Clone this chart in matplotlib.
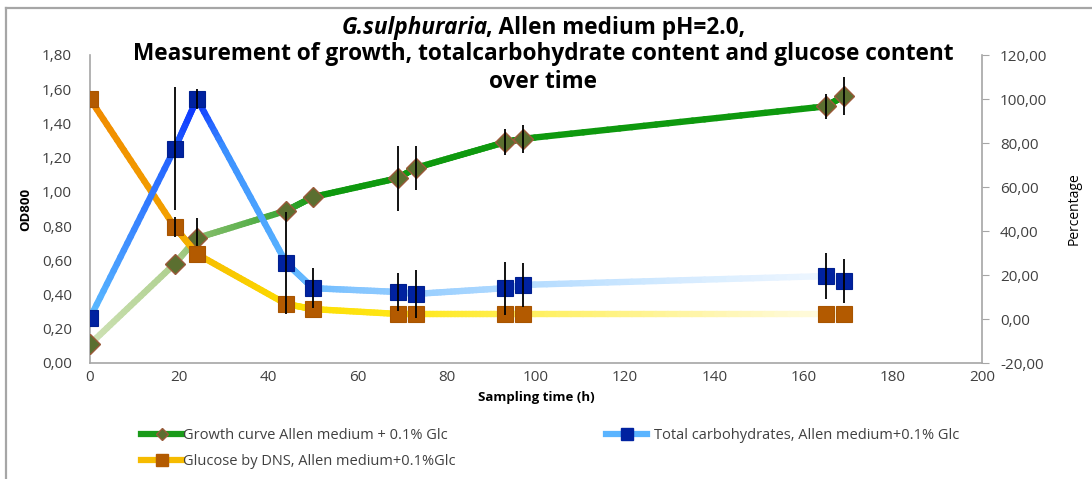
import matplotlib
matplotlib.use("Agg")
import matplotlib.pyplot as plt
import numpy as np
from matplotlib.collections import LineCollection
from matplotlib.colors import LinearSegmentedColormap
from matplotlib.lines import Line2D
from matplotlib.ticker import FuncFormatter, MultipleLocator

plt.rcParams['font.family'] = ['Open Sans', 'DejaVu Sans']

# Data
time_h = [0, 19, 24, 44, 50, 69, 73, 93, 97, 165, 169]
growth_od = [0.11, 0.58, 0.73, 0.89, 0.97, 1.08, 1.14, 1.29, 1.31, 1.50, 1.56]
growth_err = [0, 0, 0.12, 0, 0, 0.19, 0.13, 0.075, 0.08, 0.075, 0.11]
carbs_pct = [0.5, 77.5, 100.0, 25.5, 14.0, 12.3, 11.4, 14.0, 15.5, 19.5, 17.3]
carbs_err = [0, 28, 4.5, 23, 9, 8.5, 11, 12, 10, 10.6, 10]
glucose_pct = [100.0, 41.8, 29.5, 6.8, 4.5, 2.3, 2.3, 2.3, 2.3, 2.3, 2.3]
glucose_err = [0, 4.5, 0, 0, 0, 0, 0, 0, 0, 0, 0]

growth_label = "Growth curve Allen medium + 0.1% Glc"
carbs_label = "Total carbohydrates, Allen medium+0.1% Glc"
glucose_label = "Glucose by DNS, Allen medium+0.1%Glc"

# colour stops along time for the fading lines
growth_stops = [(0, '#cfe2b6'), (19, '#aed08e'), (24, '#8cc070'), (44, '#3aa535'), (52, '#0e990e'), (200, '#0e990e')]
carbs_stops = [(0, '#5cbcff'), (19, '#1f5cff'), (24, '#0a30ff'), (30, '#3a8fff'), (44, '#5ab4ff'),
               (60, '#86c6ff'), (97, '#b3dbff'), (140, '#dbeeff'), (165, '#eef6ff'), (200, '#eef6ff')]
glucose_stops = [(0, '#f08a00'), (19, '#f3a200'), (24, '#f6bb00'), (44, '#fddc00'), (73, '#ffe81a'),
                 (100, '#fff060'), (140, '#fff6b0'), (165, '#fffbe0'), (200, '#fffbe0')]


def gradient_line(axis, x, y, stops, lw=4.6, z=2):
    cmap = LinearSegmentedColormap.from_list('g', [(t / 200.0, c) for t, c in stops])
    pts_x, pts_y = [], []
    for i in range(len(x) - 1):
        f = np.linspace(0, 1, 25, endpoint=False)
        pts_x.extend(x[i] + (x[i + 1] - x[i]) * f)
        pts_y.extend(y[i] + (y[i + 1] - y[i]) * f)
    pts_x.append(x[-1])
    pts_y.append(y[-1])
    pts = np.column_stack([pts_x, pts_y])
    segs = np.stack([pts[:-1], pts[1:]], axis=1)
    mids = (pts[:-1, 0] + pts[1:, 0]) / 2 / 200.0
    lc = LineCollection(segs, colors=cmap(mids), linewidths=lw, capstyle='round',
                        joinstyle='round', zorder=z)
    axis.add_collection(lc)


W, H = 1092, 479
fig = plt.figure(figsize=(W / 100, H / 100), dpi=100)

# frame of the original chart area
fig.add_artist(Line2D([6 / W, 6 / W], [0, 1 - 8 / H], color='#a6a6a6', lw=1.6))
fig.add_artist(Line2D([6 / W, 1], [1 - 8 / H, 1 - 8 / H], color='#a6a6a6', lw=1.6))

ax = fig.add_axes([90 / W, 1 - 363 / H, (982 - 90) / W, (363 - 55) / H])
ax2 = ax.twinx()

grey = '#404040'
spine_c = '#a6a6a6'

# growth curve (left axis)
gradient_line(ax, time_h, growth_od, growth_stops, z=2)
ax.errorbar(time_h, growth_od, yerr=growth_err, fmt='none', ecolor='black', elinewidth=1.3, capsize=0, zorder=4)
ax.plot(time_h, growth_od, linestyle='none', marker='D', markersize=10, markerfacecolor='#5b6f30',
        markeredgecolor='#9a5a3a', markeredgewidth=1.0, zorder=3)

# total carbohydrates and glucose (right axis)
gradient_line(ax2, time_h, glucose_pct, glucose_stops, z=2)
gradient_line(ax2, time_h, carbs_pct, carbs_stops, z=2.5)
ax2.plot(time_h, glucose_pct, linestyle='none', marker='s', markersize=12, markerfacecolor='#b35a00',
         markeredgecolor='#a85500', markeredgewidth=0.8, zorder=3)
ax2.plot(time_h, carbs_pct, linestyle='none', marker='s', markersize=12, markerfacecolor='#0022a0',
         markeredgecolor='#00208f', markeredgewidth=0.8, zorder=3.5)
ax2.errorbar(time_h, glucose_pct, yerr=glucose_err, fmt='none', ecolor='black', elinewidth=1.3, capsize=0, zorder=4)
ax2.errorbar(time_h, carbs_pct, yerr=carbs_err, fmt='none', ecolor='black', elinewidth=1.3, capsize=0, zorder=4)

# axes
ax.set_xlim(0, 200)
ax.set_ylim(0, 1.8)
ax2.set_ylim(-20, 120)
ax.xaxis.set_major_locator(MultipleLocator(20))
ax.yaxis.set_major_locator(MultipleLocator(0.2))
ax2.yaxis.set_major_locator(MultipleLocator(20))
comma = FuncFormatter(lambda v, p: f"{v:.2f}".replace('.', ','))
ax.yaxis.set_major_formatter(comma)
ax2.yaxis.set_major_formatter(comma)

for a in (ax, ax2):
    a.spines['top'].set_visible(False)
    for s in ('left', 'right', 'bottom'):
        a.spines[s].set_color(spine_c)
        a.spines[s].set_linewidth(1.2)
ax.spines['right'].set_visible(False)
ax2.spines['left'].set_visible(False)
ax2.spines['bottom'].set_visible(False)

ax.tick_params(axis='y', length=0, labelsize=11, labelcolor=grey, pad=13)
ax.tick_params(axis='x', length=0, labelsize=11, labelcolor=grey, pad=5)
ax2.tick_params(axis='y', length=5, color=spine_c, labelsize=11, labelcolor=grey, pad=8)

ax.set_ylabel("OD800", fontsize=9.5, fontweight='bold', color='black', labelpad=7)
ax2.set_ylabel("Percentage", fontsize=10, color='black', labelpad=14)
ax.set_xlabel("Sampling time (h)", fontsize=9.5, fontweight='bold', color='black', labelpad=4)

# title (three lines, first part italic)
y1, y2, y3 = 1 - 28 / H, 1 - 54 / H, 1 - 82 / H
tfs = 16.3
ta = fig.text(0, y1, "G.sulphuraria", fontsize=tfs, fontweight='bold', style='italic', va='center', ha='left')
tb = fig.text(0, y1, ", Allen medium pH=2.0,", fontsize=tfs, fontweight='bold', va='center', ha='left')
fig.text(543 / W, y2, "Measurement of growth, totalcarbohydrate content and glucose content",
         fontsize=tfs, fontweight='bold', va='center', ha='center')
fig.text(543 / W, y3, "over time", fontsize=tfs, fontweight='bold', va='center', ha='center')
fig.canvas.draw()
r = fig.canvas.get_renderer()
wa = ta.get_window_extent(r).width - 2
wb = tb.get_window_extent(r).width
left = 543 - (wa + wb) / 2
ta.set_x(left / W)
tb.set_x((left + wa) / W)

# legends
h_growth = Line2D([0], [0], color='#1a9a1a', lw=4.5, marker='D', markersize=6,
                  markerfacecolor='#5b6f30', markeredgecolor='#9a5a3a')
h_glucose = Line2D([0], [0], color='#f6bb00', lw=4.5, marker='s', markersize=8,
                   markerfacecolor='#b35a00', markeredgecolor='#b35a00')
h_carbs = Line2D([0], [0], color='#5ab4ff', lw=4.5, marker='s', markersize=8,
                 markerfacecolor='#0022a0', markeredgecolor='#0022a0')
leg1 = fig.legend([h_growth, h_glucose], [growth_label, glucose_label], loc='upper left',
                  bbox_to_anchor=(128 / W, 1 - 415 / H), frameon=False, fontsize=10.5,
                  handlelength=2.8, handletextpad=0.1, labelspacing=0.75, labelcolor=grey)
leg2 = fig.legend([h_carbs], [carbs_label], loc='upper left',
                  bbox_to_anchor=(593 / W, 1 - 415 / H), frameon=False, fontsize=10.5,
                  handlelength=2.8, handletextpad=0.5, labelcolor=grey)

fig.savefig("out.png", dpi=100)
